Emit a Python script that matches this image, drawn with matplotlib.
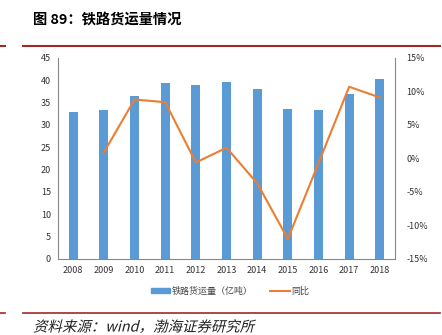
import matplotlib
matplotlib.use("Agg")
import matplotlib.pyplot as plt
from matplotlib.lines import Line2D
from matplotlib.textpath import TextPath
from matplotlib.patches import PathPatch
from matplotlib.font_manager import FontProperties
from matplotlib.transforms import Affine2D

plt.rcParams['font.family'] = ['Noto Sans CJK SC', 'DejaVu Sans']

years = ['2008', '2009', '2010', '2011', '2012', '2013', '2014', '2015', '2016', '2017', '2018']
freight = [33.0, 33.3, 36.4, 39.3, 39.0, 39.7, 38.1, 33.6, 33.3, 36.9, 40.3]
yoy = [None, 0.9, 8.8, 8.4, -0.6, 1.6, -3.7, -12.0, -0.7, 10.7, 9.1]
left_ticks = [0, 5, 10, 15, 20, 25, 30, 35, 40, 45]
right_ticks = [-15, -10, -5, 0, 5, 10, 15]

blue = '#5B9BD5'
orange = '#ED7D31'
red = '#9E2A25'

fig = plt.figure(figsize=(4.42, 3.35), dpi=100)
ax = fig.add_axes([0.131, 0.227, 0.763, 0.600])
x = list(range(len(years)))
ax.bar(x, freight, width=0.3, color=blue)
ax.set_xlim(-0.5, len(years) - 0.5)
ax.set_ylim(0, 45)
ax.set_yticks(left_ticks)
ax.set_xticks(x)
ax.set_xticklabels(years)
ax.tick_params(labelsize=6.5, length=0, pad=5, colors='#333333')
for s in ['top', 'right']:
    ax.spines[s].set_visible(False)
for s in ['left', 'bottom']:
    ax.spines[s].set_color('#888888')
    ax.spines[s].set_linewidth(0.8)

ax2 = ax.twinx()
xs = [i for i, v in zip(x, yoy) if v is not None]
vs = [v for v in yoy if v is not None]
ax2.plot(xs, vs, color=orange, linewidth=1.5)
ax2.set_ylim(-15, 15)
ax2.set_yticks(right_ticks)
ax2.set_yticklabels([f'{t}%' for t in right_ticks])
ax2.tick_params(labelsize=6.5, length=0, pad=8, colors='#333333')
for s in ['top', 'left', 'bottom']:
    ax2.spines[s].set_visible(False)
ax2.spines['right'].set_color('#888888')
ax2.spines['right'].set_linewidth(0.8)

handles = [plt.Rectangle((0, 0), 1, 1, color=blue),
           Line2D([0], [0], color=orange, linewidth=1.5)]
fig.legend(handles, ['铁路货运量（亿吨）', '同比'], loc='center', bbox_to_anchor=(0.52, 0.13),
           ncol=2, frameon=False, fontsize=6.5, handlelength=2.2, handleheight=0.5,
           columnspacing=2.0, handletextpad=0.1, labelcolor='#444444')

fig.text(0.075, 0.94, '图 89：铁路货运量情况', fontsize=10.3, fontweight='bold', va='center')
fig.add_artist(Line2D([0.0, 0.012], [0.862, 0.862], color=red, linewidth=1.5))
fig.add_artist(Line2D([0.052, 0.995], [0.862, 0.862], color=red, linewidth=1.5))
fig.add_artist(Line2D([0.0, 0.012], [0.066, 0.066], color=red, linewidth=1.2))
fig.add_artist(Line2D([0.052, 0.995], [0.066, 0.066], color=red, linewidth=1.2))

# slanted source line (the CJK font has no italic face)
src = TextPath((0, 0), '资料来源：wind，渤海证券研究所', size=10.4,
               prop=FontProperties(family='Noto Sans CJK SC', weight='light'))
tr = Affine2D().skew_deg(14, 0).scale(1 / 72).translate(0.33, 0.035) + fig.dpi_scale_trans
fig.add_artist(PathPatch(src, transform=tr, facecolor='#222222', edgecolor='none'))

fig.savefig('out.png', dpi=100)
